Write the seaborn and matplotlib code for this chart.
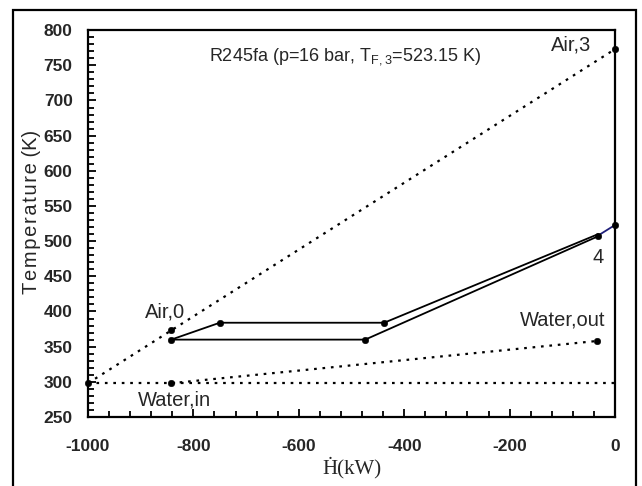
import matplotlib
import numpy as np
import pandas as pd
import seaborn as sns

matplotlib.use("Agg")
import matplotlib.pyplot as plt
from matplotlib.patches import Rectangle
from matplotlib.ticker import MultipleLocator

# heat flow (kW) / temperature (K)
AIR_H = [-1000, 0]
AIR_T = [298, 773]
AMBIENT_H = [-1000, 0]
AMBIENT_T = [298, 298]
WATER_H = [-842, -35]
WATER_T = [298, 358]
R245_LOW_H = [-842, -474, -32]
R245_LOW_T = [360, 360, 507]
R245_HIGH_H = [-842, -750, -438, -32]
R245_HIGH_T = [360, 384, 384, 510]
R245_TOP_H = [-32, 0]
R245_TOP_T = [508, 523]
MARK_H = [-1000, -842, -842, -842, -750, -474, -438, -35, -32, 0, 0]
MARK_T = [298, 373, 360, 298, 384, 360, 384, 358, 508, 523, 773]


def main():
    sns.set_style("ticks")
    plt.rcParams["font.family"] = ["Liberation Sans", "DejaVu Sans"]
    plt.rcParams["axes.unicode_minus"] = False

    fig, ax = plt.subplots(figsize=(6.42, 4.86), dpi=100)
    fig.subplots_adjust(left=0.137, right=0.958, top=0.938, bottom=0.142)

    dotted = dict(color="black", linestyle=(0, (1.2, 2.6)), linewidth=1.6, ax=ax)
    sns.lineplot(x=AIR_H, y=AIR_T, sort=False, **dotted)
    sns.lineplot(x=AMBIENT_H, y=AMBIENT_T, sort=False, **dotted)
    sns.lineplot(x=WATER_H, y=WATER_T, sort=False, **dotted)

    solid = dict(color="black", linewidth=1.3, ax=ax, sort=False)
    sns.lineplot(x=R245_LOW_H, y=R245_LOW_T, **solid)
    sns.lineplot(x=R245_HIGH_H, y=R245_HIGH_T, **solid)
    sns.lineplot(x=R245_TOP_H, y=R245_TOP_T, color="#1f1f7a", linewidth=1.3,
                 ax=ax, sort=False)

    marks = pd.DataFrame({"H": MARK_H, "T": MARK_T})
    sns.scatterplot(data=marks, x="H", y="T", color="black", s=22,
                    edgecolor="black", zorder=5, clip_on=False, ax=ax)

    ax.set_xlim(-1000, 0)
    ax.set_ylim(250, 800)
    ax.xaxis.set_major_locator(MultipleLocator(200))
    ax.xaxis.set_minor_locator(MultipleLocator(40))
    ax.yaxis.set_major_locator(MultipleLocator(50))
    ax.yaxis.set_minor_locator(MultipleLocator(10))
    ax.tick_params(which="both", direction="in", width=1.3, color="black")
    ax.tick_params(which="major", length=6, labelsize=12.5)
    ax.tick_params(which="minor", length=4)
    ax.tick_params(axis="x", which="major", pad=16)
    ax.tick_params(axis="y", which="major", pad=11)
    for lab in ax.get_xticklabels() + ax.get_yticklabels():
        lab.set_fontweight("bold")
    for sp in ax.spines.values():
        sp.set_visible(True)
        sp.set_linewidth(1.6)
        sp.set_color("black")

    ax.set_xlabel("\u1e22(kW)", fontsize=15, family=["Liberation Serif", "DejaVu Serif"],
                  labelpad=2)
    ax.set_ylabel("\u200a".join("Temperature") + " (K)", fontsize=14.5, labelpad=2)
    ax.yaxis.set_label_coords(-0.09, 0.53)

    ax.text(-512, 762, r"R245fa (p=16 bar, T$\mathregular{_{F,3}}$=523.15 K)",
            fontsize=13, ha="center", va="center")
    ax.text(-83, 779, "Air,3", fontsize=14.5, ha="center", va="center")
    ax.text(-854, 399, "Air,0", fontsize=14.5, ha="center", va="center")
    ax.text(-835, 274, "Water,in", fontsize=14.5, ha="center", va="center")
    ax.text(-100, 388, "Water,out", fontsize=14.5, ha="center", va="center")
    ax.text(-32, 477, "4", fontsize=14.5, ha="center", va="center")

    # outer frame around the whole figure
    fig.patches.append(Rectangle((13 / 642, -0.02), (636 - 13) / 642, 0.999,
                                 transform=fig.transFigure, fill=False,
                                 edgecolor="black", linewidth=1.6))

    fig.savefig("out.png", dpi=100)
    plt.close(fig)


if __name__ == "__main__":
    main()
